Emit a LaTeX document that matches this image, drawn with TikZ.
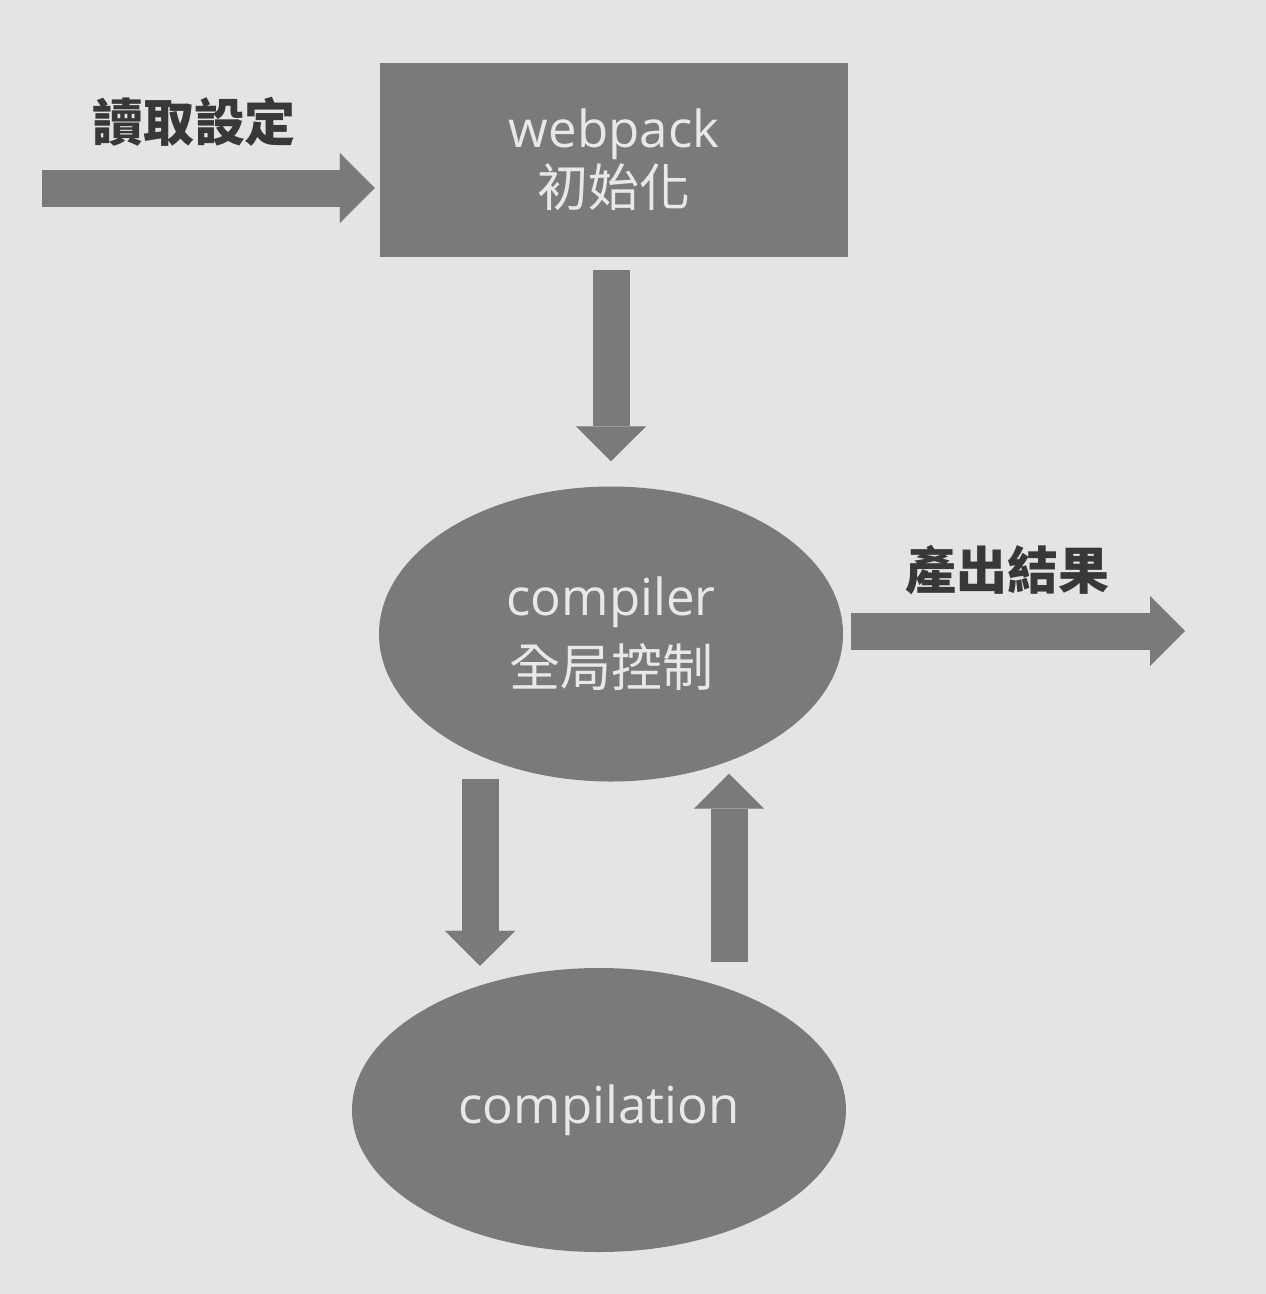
\documentclass[tikz,border=0pt]{standalone}
\usepackage{fontspec}
\setmainfont{Noto Sans CJK TC}
\newfontfamily\latinfont{Open Sans}
\usepackage{tikz}
\usetikzlibrary{arrows.meta,%
                shapes.geometric,positioning}

\definecolor{pagebg}{HTML}{E3E5E3}
\definecolor{shapegray}{HTML}{7A7A7A}
\definecolor{shapetext}{HTML}{E8E8E8}
\definecolor{labelink}{HTML}{383838}

\begin{document}
\begin{tikzpicture}[x=1pt,y=-1pt,
  boxshape/.style={rectangle,fill=shapegray,text=shapetext,inner sep=0pt,align=center,
    minimum width=468pt,minimum height=194pt,font=\fontsize{51}{59}\selectfont},
  ovalshape/.style={ellipse,fill=shapegray,text=shapetext,inner sep=0pt,align=center,
    font=\fontsize{51}{59}\selectfont},
  labeltext/.style={text=labelink,inner sep=0pt,font=\fontsize{51}{59}\selectfont\bfseries},
  blockarrow/.style={draw=shapegray,line width=37pt,
    -{Triangle[length=35pt,width=70pt,line width=0.1pt]}}]
\fill[pagebg] (0,0) rectangle (1266,1294);
\useasboundingbox (0,0) rectangle (1266,1294);
%\draw[red] (0,0) grid[step=100] (1266,1294);
\node[boxshape] (init) at (614,160) {{\latinfont webpack}\\初始化};
\node[labeltext] (readcfg) at (194,122) {讀取設定};
\coordinate (cfgin) at (42,188);
\node[ovalshape,minimum width=464pt,minimum height=295pt] (compiler) at (611,634)
  {{\latinfont compiler}\\[12pt]全局控制};
\node[ovalshape,minimum width=494pt,minimum height=284pt] (compilation) at (599,1110)
  {\latinfont compilation};
\node[labeltext] (output) at (1007,570) {產出結果};
\coordinate (outend) at (1185,631);
\draw[blockarrow,shorten >=5pt] (cfgin) -- (cfgin -| init.west);
\draw[blockarrow,shorten <=13pt,shorten >=25pt] (init.south -| compiler.north) -- (compiler.north);
\draw[blockarrow,shorten <=8pt] ([yshift=3pt]compiler.east) -- (outend);
\draw[blockarrow,shorten <=-3pt,shorten >=2pt] ([xshift=-131pt]compiler.south) -- ([xshift=-119pt]compilation.north);
\draw[blockarrow,shorten <=6pt,shorten >=-8pt] ([xshift=130pt]compilation.north) -- ([xshift=118pt]compiler.south);
\end{tikzpicture}
\end{document}
